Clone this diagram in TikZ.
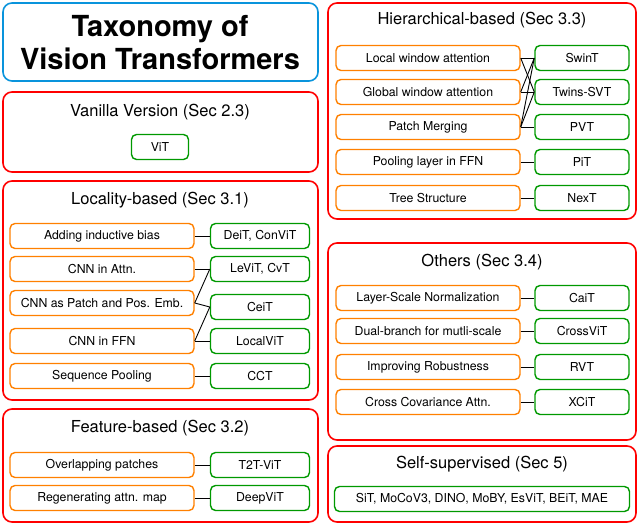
\documentclass[tikz,border=0pt]{standalone}
\usepackage{fontspec}
\setmainfont{TeX Gyre Heros}
\begin{document}
\begin{tikzpicture}[x=1pt,y=-1pt,
 grp/.style={draw=red,line width=1.6pt,rounded corners=9pt},
 ttl/.style={draw=cyan!80!blue,line width=1.6pt,rounded corners=9pt},
 hdr/.style={font=\fontsize{16.5}{18}\selectfont},
 lb/.style={draw=orange,line width=1.4pt,rounded corners=5pt,minimum height=25pt,font=\fontsize{12.3}{14}\selectfont,inner sep=1pt},
 rb/.style={draw=green!60!black,line width=1.4pt,rounded corners=5pt,minimum height=25pt,font=\fontsize{12.3}{14}\selectfont,inner sep=1pt},
 ln/.style={line width=0.9pt}]
\useasboundingbox (0,0) rectangle (640,526);
\draw[ttl] (3,3) rectangle (318,81);
\node[font=\bfseries\fontsize{29}{33}\selectfont,align=center] (title) at (160,43) {Taxonomy of\\Vision Transformers};
% Vanilla
\draw[grp] (3,92) rectangle (318,172);
\node[hdr] (hv) at (160,112) {Vanilla Version (Sec 2.3)};
\node[rb,minimum width=57pt] (vit) at (160,147) {ViT};
% Locality
\draw[grp] (3,181) rectangle (318,400);
\node[hdr] (hl) at (160,200) {Locality-based (Sec 3.1)};
\foreach \n/\t/\y in {l1/Adding inductive bias/236,l2/CNN in Attn./269,l3/CNN as Patch and Pos. Emb./303,l4/CNN in FFN/341,l5/Sequence Pooling/376}
  \node[lb,minimum width=184pt] (\n) at (102,\y) {\t};
\foreach \n/\t/\y in {r1/{DeiT, ConViT}/236,r2/{LeViT, CvT}/269,r3/CeiT/307,r4/LocalViT/341,r5/CCT/376}
  \node[rb,minimum width=99pt] (\n) at (260,\y) {\t};
\draw[ln] (l1.east)--(r1.west); \draw[ln] (l2.east)--(r2.west);
\draw[ln] (l3.east)--(r2.west); \draw[ln] (l3.east)--(r3.west);
\draw[ln] (l4.east)--(r3.west); \draw[ln] (l4.east)--(r4.west);
\draw[ln] (l5.east)--(r5.west);
% Feature
\draw[grp] (3,409) rectangle (318,522);
\node[hdr] (hf) at (160,428) {Feature-based (Sec 3.2)};
\node[lb,minimum width=184pt] (f1) at (102,465) {Overlapping patches};
\node[lb,minimum width=184pt] (f2) at (102,498) {Regenerating attn. map};
\node[rb,minimum width=99pt] (g1) at (260,465) {T2T-ViT};
\node[rb,minimum width=99pt] (g2) at (260,498) {DeepViT};
\draw[ln] (f1.east)--(g1.west); \draw[ln] (f2.east)--(g2.west);
% Hierarchical
\draw[grp] (328,3) rectangle (636,219);
\node[hdr] (hh) at (482,20) {Hierarchical-based (Sec 3.3)};
\foreach \n/\t/\y in {h1/Local window attention/58,h2/Global window attention/92,h3/Patch Merging/127,h4/Pooling layer in FFN/162,h5/Tree Structure/198}
  \node[lb,minimum width=184pt] (\n) at (428,\y) {\t};
\foreach \n/\t/\y in {k1/SwinT/58,k2/Twins-SVT/92,k3/PVT/127,k4/PiT/162,k5/NexT/198}
  \node[rb,minimum width=94pt] (\n) at (582,\y) {\t};
\draw[ln] (h1.east)--(k1.west); \draw[ln] (h1.east)--(k2.west);
\draw[ln] (h2.east)--(k1.west); \draw[ln] (h2.east)--(k2.west);
\draw[ln] (h3.east)--(k1.west); \draw[ln] (h3.east)--(k2.west); \draw[ln] (h3.east)--(k3.west);
\draw[ln] (h4.east)--(k4.west); \draw[ln] (h5.east)--(k5.west);
% Others
\draw[grp] (328,243) rectangle (636,440);
\node[hdr] (ho) at (482,262) {Others (Sec 3.4)};
\foreach \n/\t/\y in {o1/Layer-Scale Normalization/298,o2/Dual-branch for mutli-scale/331,o3/Improving Robustness/367,o4/Cross Covariance Attn./402}
  \node[lb,minimum width=184pt] (\n) at (428,\y) {\t};
\foreach \n/\t/\y in {p1/CaiT/298,p2/CrossViT/331,p3/RVT/367,p4/XCiT/402}
  \node[rb,minimum width=94pt] (\n) at (582,\y) {\t};
\foreach \i in {1,2,3,4} \draw[ln] (o\i.east)--(p\i.west);
% Self-supervised
\draw[grp] (328,446) rectangle (636,522);
\node[hdr] (hs) at (482,464) {Self-supervised (Sec 5)};
\node[rb,minimum width=295pt] (ss) at (482,499) {SiT, MoCoV3, DINO, MoBY, EsViT, BEiT, MAE};
\end{tikzpicture}
\end{document}
